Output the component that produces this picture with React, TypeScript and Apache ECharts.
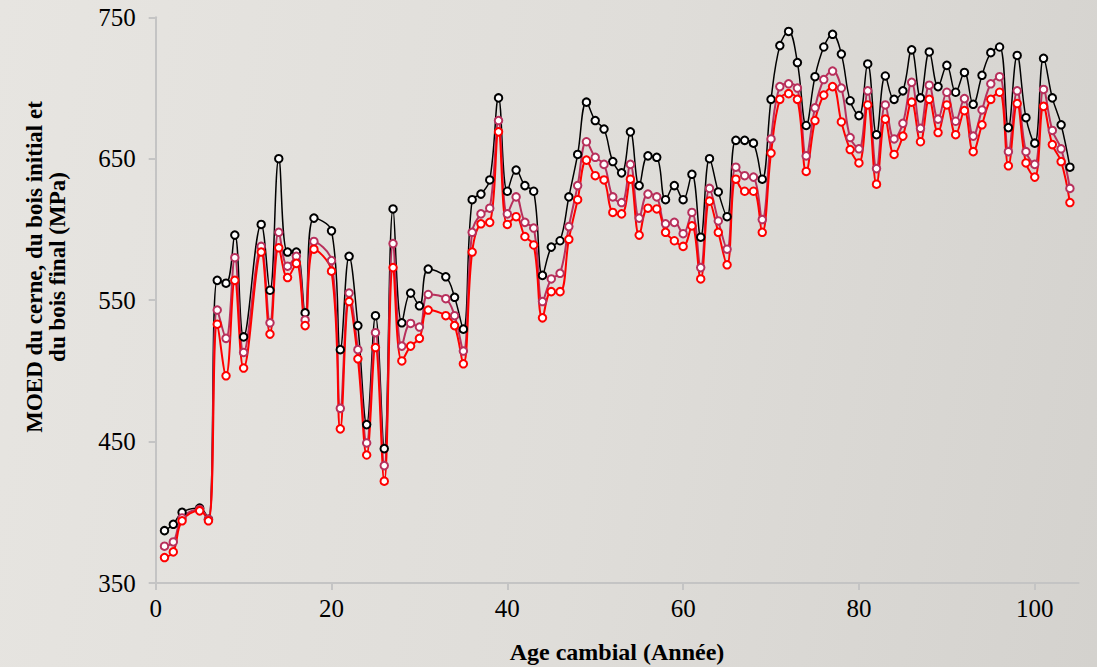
import React, { useEffect, useRef } from "react";
import * as echarts from "echarts";

const ages = [1, 2, 3, 5, 6, 7, 8, 9, 10, 12, 13, 14, 15, 16, 17, 18, 20, 21, 22, 23, 24, 25, 26, 27, 28, 29, 30, 31, 33, 34, 35, 36, 37, 38, 39, 40, 41, 42, 43, 44, 45, 46, 47, 48, 49, 50, 51, 52, 53, 54, 55, 56, 57, 58, 59, 60, 61, 62, 63, 64, 65, 66, 67, 68, 69, 70, 71, 72, 73, 74, 75, 76, 77, 78, 79, 80, 81, 82, 83, 84, 85, 86, 87, 88, 89, 90, 91, 92, 93, 94, 95, 96, 97, 98, 99, 100, 101, 102, 103, 104];

const blackValues = [387, 391.5, 400, 403, 395, 564, 562, 596, 524, 603.5, 557, 650, 584, 584, 541, 608, 599, 515, 581, 532, 462, 539, 445, 614.5, 534, 555, 546, 572, 566.5, 552, 529.5, 621, 625, 635, 693, 627, 642, 631, 627, 567.5, 587.5, 592, 623, 653, 690, 677, 671, 648, 640, 669, 631, 652, 651, 621, 631, 621, 639, 594.5, 650, 626.5, 609, 663, 663, 661, 635.5, 692, 730, 740, 718, 673.5, 708, 729, 738, 724, 691, 680.5, 717, 667, 708.5, 692, 698, 727, 693, 725.5, 701, 716, 697, 711, 688.5, 709, 725, 729, 672, 723, 679, 661, 721, 693, 674, 644];

const purpleValues = [376, 379, 396, 402, 395, 543, 523, 580, 513, 588, 534, 598, 574, 581, 536, 591.5, 578, 473.5, 555, 515, 449, 527, 433, 590, 517.5, 533.5, 531, 554, 551, 539, 514, 598, 611, 615, 677, 611, 623, 605, 601, 549, 565, 569, 602, 631, 662, 651, 646, 623, 619, 646, 608, 625, 623, 604, 605, 597, 612, 573, 629, 606, 586, 644, 638, 637, 607, 664, 701, 703, 700, 652, 686, 706, 712, 700, 665, 657, 698, 643, 688, 664, 675, 704, 671.5, 702, 678, 697, 676.5, 692.5, 666, 684.5, 703, 708, 655, 698, 655, 646, 699, 670, 657, 629];

const redValues = [368, 372, 394, 401, 394, 533, 496.5, 564, 502, 584, 526, 587, 566, 576, 532, 586, 570.5, 459, 549, 508.5, 440.5, 516.5, 422, 573, 507, 517.5, 523, 543, 539, 532, 505, 584, 604, 605, 669, 603.5, 609, 595, 589, 537.5, 556, 556, 593, 621, 649, 638, 635, 612, 611, 635.5, 596, 615, 614.5, 598, 592, 588, 602.5, 565, 620, 598, 575, 635.5, 627, 627, 598, 654, 692, 696, 692, 641, 677, 695, 701, 676, 656.5, 647, 688, 632, 678, 653, 666, 690, 662, 692, 668.5, 688, 667, 684, 655, 674, 692, 697, 645, 689, 647, 637, 687, 660, 648, 619];

const xTicks = [0, 20, 40, 60, 80, 100];
const yTicks = [350, 450, 550, 650, 750];

const xTitle = "Age cambial (Année)";
const yTitleLines = ["MOED du cerne, du bois initial et", "du bois final (MPa)"];

const seriesDefs = [
  { name: "Cerne", values: blackValues, color: "#000000", width: 1.5 },
  { name: "Bois initial", values: purpleValues, color: "#b8305c", width: 2 },
  { name: "Bois final", values: redValues, color: "#ff0000", width: 2 },
];

export default function App() {
  const ref = useRef<HTMLDivElement>(null);

  useEffect(() => {
    if (!ref.current) return;
    const chart = echarts.init(ref.current, null, { renderer: "svg" });
    const font = "'Liberation Serif', 'Times New Roman', serif";
    chart.setOption({
      animation: false,
      backgroundColor: "transparent",
      grid: { left: 155.7, right: 18.3, top: 17.3, bottom: 84, containLabel: false },
      xAxis: {
        type: "value",
        min: 0,
        max: 105,
        interval: 20,
        splitLine: { show: false },
        axisLine: { show: true, lineStyle: { color: "#c4c4c4", width: 2 } },
        axisTick: { show: true, length: 7, lineStyle: { color: "#c4c4c4", width: 2 }, customValues: xTicks },
        axisLabel: { color: "#000", fontFamily: font, fontSize: 25, margin: 13, customValues: xTicks },
      },
      yAxis: {
        type: "value",
        min: 350,
        max: 750,
        interval: 100,
        splitLine: { show: false },
        axisLine: { show: true, lineStyle: { color: "#c4c4c4", width: 2 } },
        axisTick: { show: true, length: 7, lineStyle: { color: "#c4c4c4", width: 2 }, customValues: yTicks },
        axisLabel: { color: "#000", fontFamily: font, fontSize: 25, margin: 20, customValues: yTicks },
      },
      graphic: [
        {
          type: "text",
          x: 617,
          y: 652,
          style: {
            text: xTitle,
            fontFamily: font,
            fontWeight: "bold",
            fontSize: 24,
            lineHeight: 26,
            fill: "#000",
            align: "center",
            verticalAlign: "middle",
          },
        },
        {
          type: "text",
          x: 46,
          y: 267,
          rotation: Math.PI / 2,
          style: {
            text: yTitleLines.join("\n"),
            fontFamily: font,
            fontWeight: "bold",
            fontSize: 23,
            lineHeight: 23,
            fill: "#000",
            align: "center",
            verticalAlign: "middle",
          },
        },
      ],
      series: seriesDefs.map((s) => ({
        name: s.name,
        type: "line",
        smooth: 0.4,
        data: ages.map((a, i) => [a, s.values[i]]),
        symbol: "emptyCircle",
        symbolSize: 7.5,
        lineStyle: { color: s.color, width: s.width },
        itemStyle: { color: s.color, borderColor: s.color, borderWidth: 2.2 },
      })),
    });
    return () => chart.dispose();
  }, []);

  return (
    <div
      style={{
        position: "fixed",
        left: 0,
        top: 0,
        width: 1097,
        height: 667,
        background: "linear-gradient(100deg, #e7e5e1 0%, #dfddd9 55%, #d4d2ce 100%)",
      }}
    >
      <div ref={ref} style={{ width: 1097, height: 667 }} />
    </div>
  );
}
